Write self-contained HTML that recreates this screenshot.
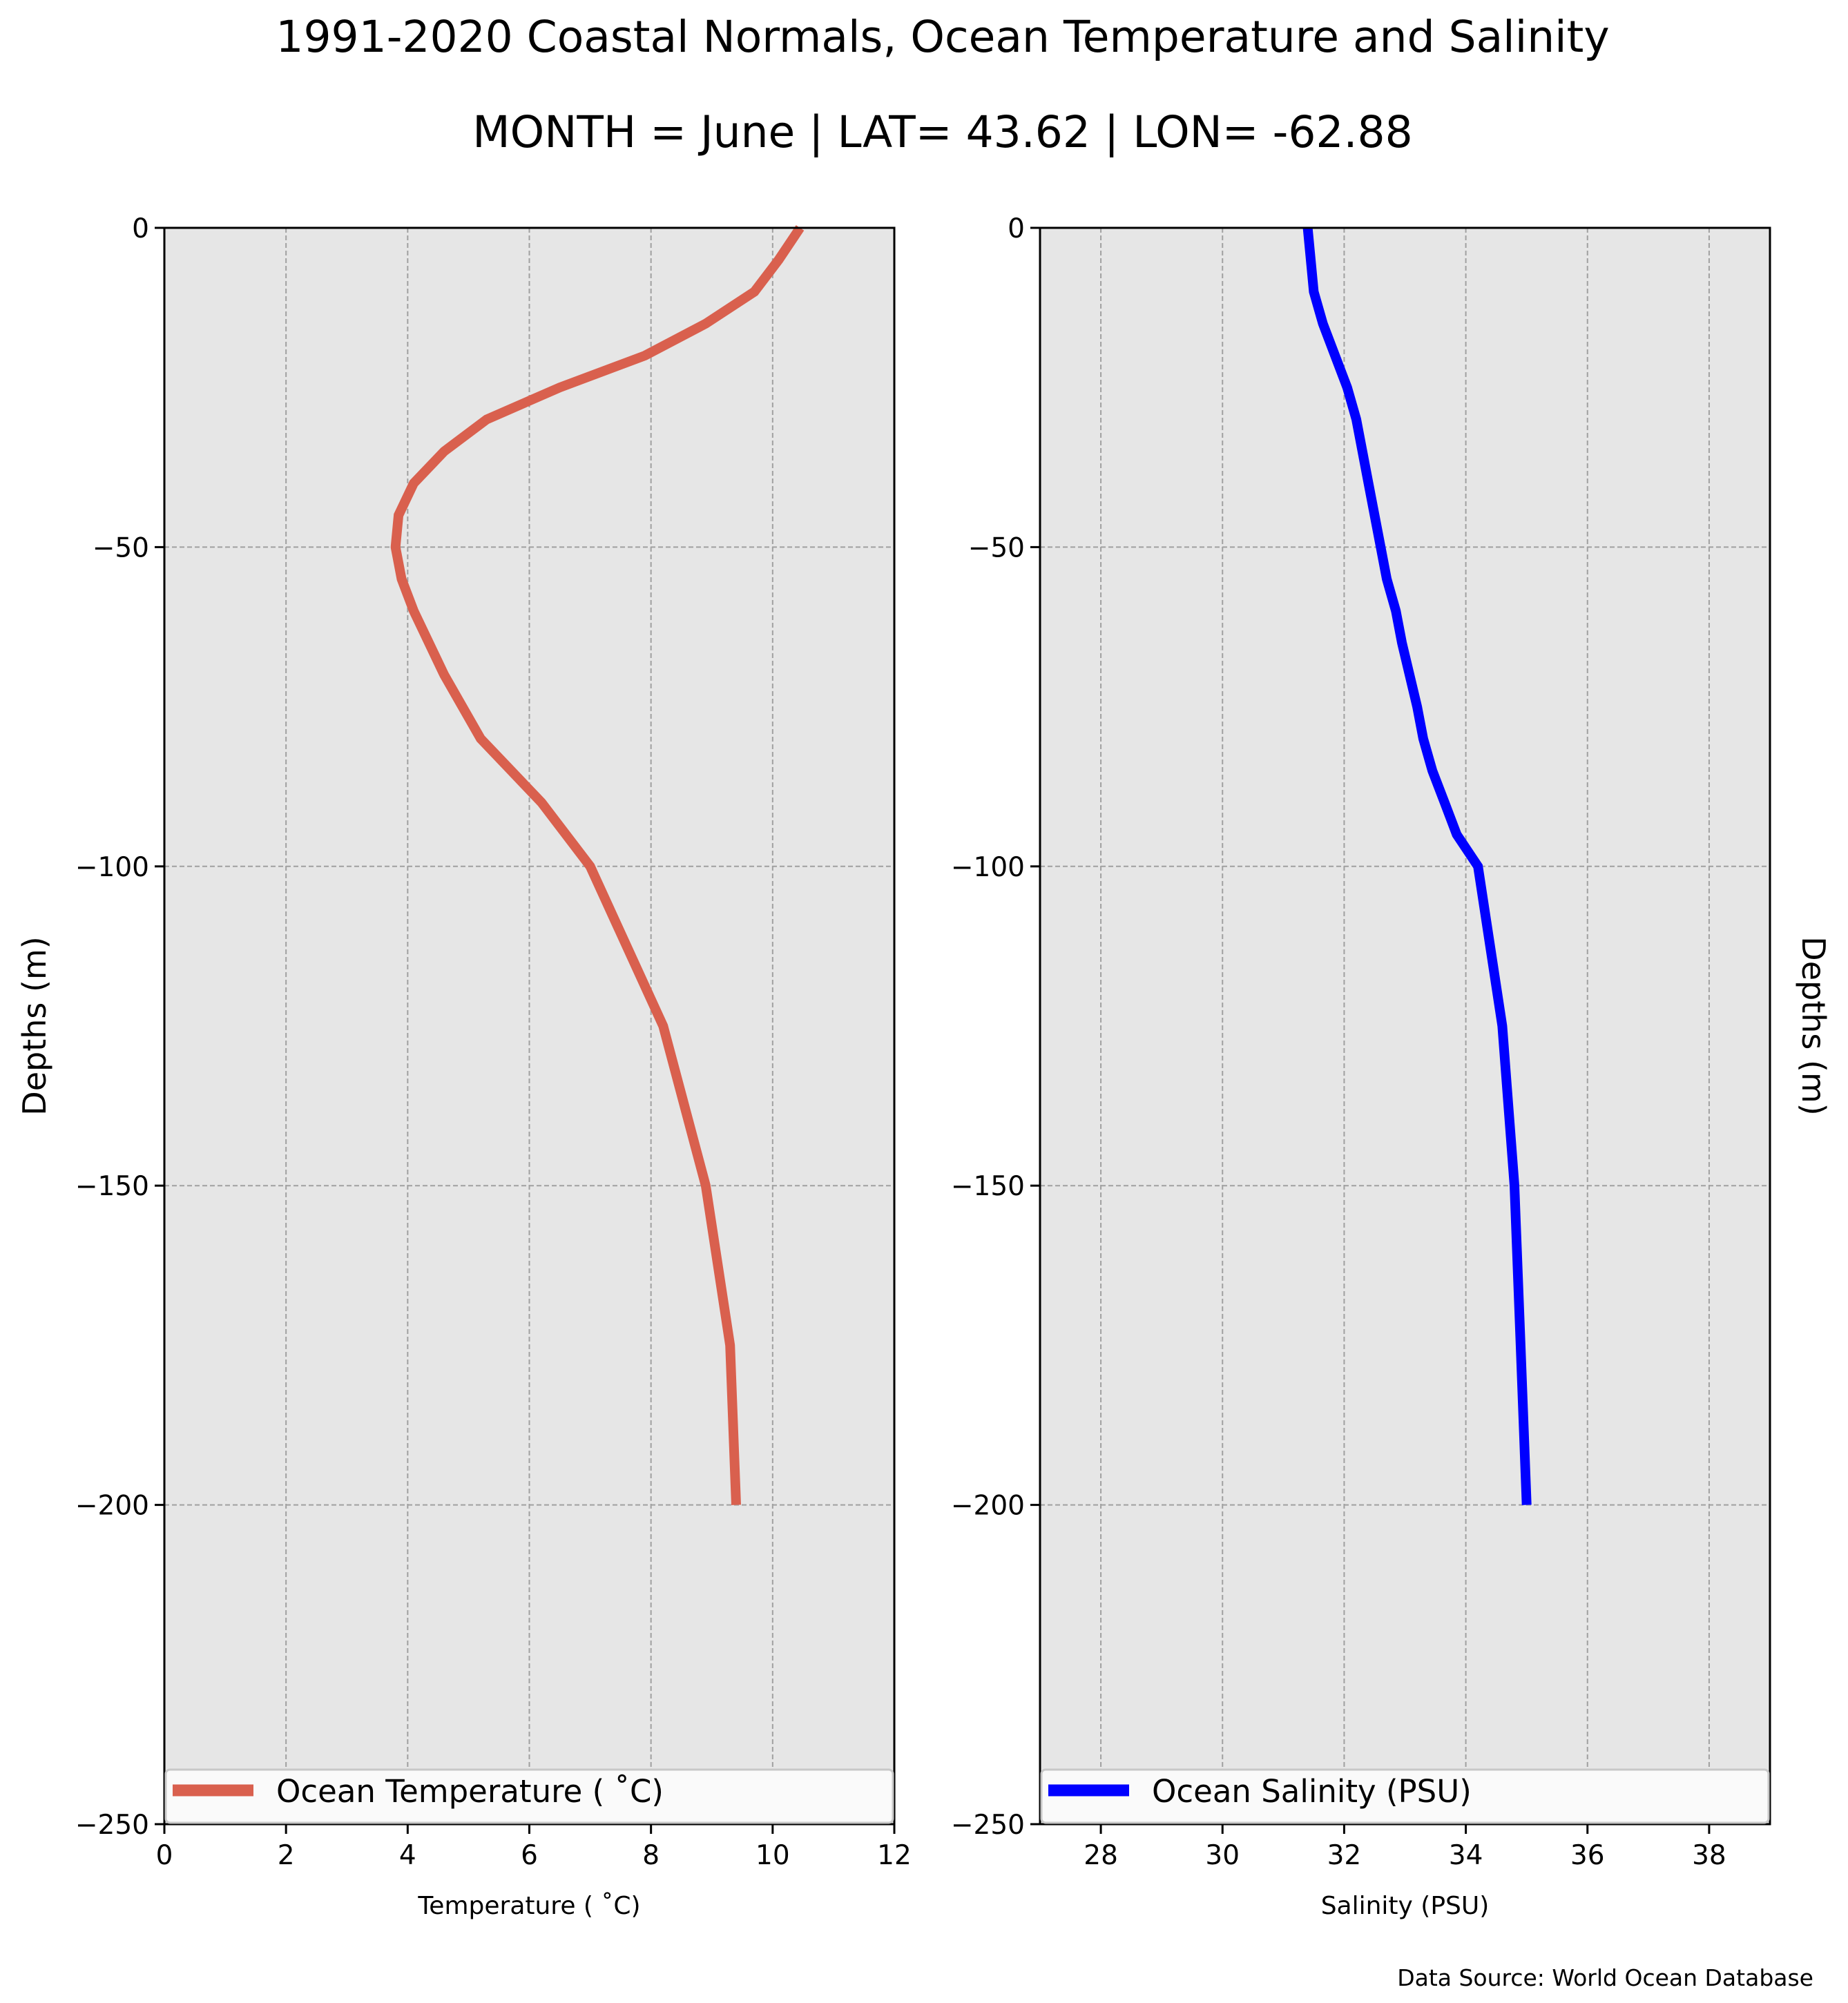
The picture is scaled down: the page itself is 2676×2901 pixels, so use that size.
<!DOCTYPE html>
<html><head><meta charset="utf-8"><style>
html,body{margin:0;padding:0;background:#fff;}
svg{display:block;font-family:"DejaVu Sans","Liberation Sans",sans-serif;}
</style></head><body>
<svg id="chart" width="2676" height="2901" viewBox="0 0 2676 2901">
<text x="1365" y="75" font-size="63" text-anchor="middle">1991-2020 Coastal Normals, Ocean Temperature and Salinity</text>
<text x="1365" y="213" font-size="63" text-anchor="middle">MONTH = June | LAT= 43.62 | LON= -62.88</text>
<text x="2626" y="2876" font-size="33" text-anchor="end">Data Source: World Ocean Database</text>
<g id="g"></g>
</svg>
<script>
const depths = [0,-5,-10,-15,-20,-25,-30,-35,-40,-45,-50,-55,-60,-70,-80,-85,-90,-100,-125,-150,-175,-200];
const temps = [10.45,10.1,9.7,8.9,7.9,6.5,5.3,4.6,4.1,3.85,3.8,3.9,4.1,4.6,5.2,5.7,6.2,7.0,8.2,8.9,9.3,9.4];
const salDepths = [0,-5,-10,-15,-20,-25,-30,-40,-50,-55,-60,-65,-75,-80,-85,-90,-95,-100,-125,-150,-175,-200];
const sal = [31.4,31.45,31.5,31.65,31.85,32.05,32.2,32.4,32.6,32.7,32.85,32.95,33.2,33.3,33.45,33.65,33.85,34.2,34.6,34.8,34.9,35.0];
const yTicks = [0,-50,-100,-150,-200,-250];
const tempTicks = [0,2,4,6,8,10,12];
const salTicks = [28,30,32,34,36,38];

(function(){
const NS="http://www.w3.org/2000/svg";
const root=document.getElementById('g');
function mk(tag,attrs,parent){const e=document.createElementNS(NS,tag);for(const k in attrs)e.setAttribute(k,attrs[k]);(parent||root).appendChild(e);return e;}
const yTop=330,yBot=2642;
function yS(d){return yTop+(0-d)/250*(yBot-yTop);}

function panel(cfg){
  const L=cfg.left,R=cfg.right;
  const xS=v=>L+(v-cfg.xmin)/(cfg.xmax-cfg.xmin)*(R-L);
  const g=mk('g',{});
  
  
  const bg=mk('rect',{x:L,y:yTop,width:R-L,height:yBot-yTop,fill:'#e6e6e6'},g);
  
  
  cfg.xticks.forEach(t=>{
    const x=xS(t);
    const gl=mk('line',{x1:x,x2:x,y1:yTop,y2:yBot,stroke:'#a0a0a0','stroke-width':2,'stroke-dasharray':'7,4'},g);
    
    
    mk('line',{x1:x,x2:x,y1:yBot,y2:yBot+14,stroke:'#000','stroke-width':3},g);
    const tx=mk('text',{x:x,y:yBot+58,'font-size':39,'text-anchor':'middle'},g);
    tx.textContent=String(t);
    
    
  });
  yTicks.forEach(t=>{
    const y=yS(t);
    if(t!==0&&t!==-250){
      const gl=mk('line',{x1:L,x2:R,y1:y,y2:y,stroke:'#a0a0a0','stroke-width':2,'stroke-dasharray':'7,4'},g);
      
      
    }
    mk('line',{x1:L-14,x2:L,y1:y,y2:y,stroke:'#000','stroke-width':3},g);
    const tx=mk('text',{x:L-22,y:y+14,'font-size':39,'text-anchor':'end'},g);
    tx.textContent=t<0?'\u2212'+(-t):String(t);
    
    
  });
  const pts=cfg.vals.map((v,i)=>xS(v).toFixed(1)+','+yS(cfg.ds[i]).toFixed(1)).join(' ');
  const pl=mk('polyline',{points:pts,fill:'none',stroke:cfg.color,'stroke-width':14,'stroke-linejoin':'miter'},g);
  
  
  const fr=mk('rect',{x:L,y:yTop,width:R-L,height:yBot-yTop,fill:'none',stroke:'#000','stroke-width':3},g);
  
  
  const lg=mk('g',{},g);
  
  
  mk('rect',{x:L+2,y:2563,width:R-L-4,height:yBot-2565,rx:6,fill:'#fafafa',stroke:'#c8c8c8','stroke-width':3},lg);
  mk('line',{x1:L+12,x2:L+129,y1:2593,y2:2593,stroke:cfg.color,'stroke-width':17},lg);
  const lt=mk('text',{x:L+162,y:2610,'font-size':45},lg);
  lt.textContent=cfg.legend;
  
  
  const xl=mk('text',{x:(L+R)/2,y:2772,'font-size':36,'text-anchor':'middle'},g);
  xl.textContent=cfg.xlabel;
  
  
}
panel({name:'temperature-panel',left:238,right:1295,xmin:0,xmax:12,xticks:tempTicks,vals:temps,ds:depths,color:'#d9604e',lineName:'temperature-line',legend:'Ocean Temperature ( \u02DAC)',xlabel:'Temperature ( \u02DAC)'});
panel({name:'salinity-panel',left:1506,right:2563,xmin:27,xmax:39,xticks:salTicks,vals:sal,ds:salDepths,color:'#0000ff',lineName:'salinity-line',legend:'Ocean Salinity (PSU)',xlabel:'Salinity (PSU)'});
const yl=mk('text',{x:0,y:0,'font-size':46,'text-anchor':'middle',transform:'translate(66,1486) rotate(-90)'});
yl.textContent='Depths (m)';


const yr=mk('text',{x:0,y:0,'font-size':46,'text-anchor':'middle',transform:'translate(2610,1486) rotate(90)'});
yr.textContent='Depths (m)';


})();
</script>
</body></html>
